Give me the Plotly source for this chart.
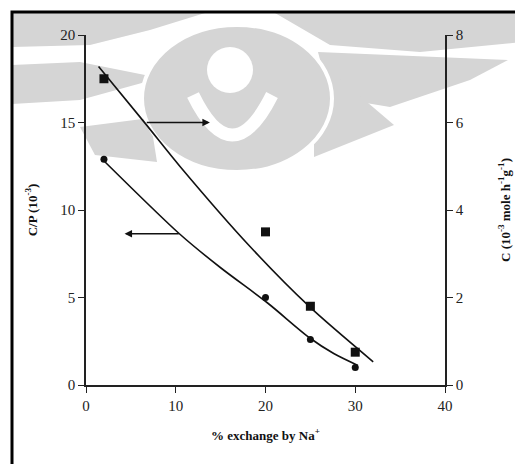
import plotly.graph_objects as go

# ---- data ----
exchange = [2, 20, 25, 30]                 # % exchange by Na+
cp_values = [12.9, 5.0, 2.6, 1.0]          # C/P (10^-3), left axis, circles
c_values = [7.0, 3.5, 1.8, 0.75]           # C (10^-3 mole h^-1 g^-1), right axis, squares

cp_fit_x = [1.9, 10.5, 15.0, 20.2, 24.9, 27.6, 30.3]
cp_fit_y = [12.86, 8.6, 6.7, 4.7, 2.7, 1.8, 1.12]
c_fit_x = [1.4, 6.6, 10.5, 18.3, 24.9, 32.0]
c_fit_y = [7.28, 5.98, 4.99, 3.16, 1.79, 0.53]

x_ticks = [0, 10, 20, 30, 40]
cp_ticks = [0, 5, 10, 15, 20]
c_ticks = [0, 2, 4, 6, 8]

# ---- geometry (window pixels; the page body adds an 8px offset) ----
OFF = 8
W, H = 523 - OFF, 464 - OFF
X0, X1, Y0, Y1 = 86, 445, 385, 35          # plot area in window pixels
L, T = X0 - OFF, Y1 - OFF
PW, PH = X1 - X0, Y0 - Y1
R, B = W - L - PW, H - T - PH


def px(x):
    return (x - X0) / PW


def py(y):
    return (Y0 - y) / PH


def poly(pts):
    return "M " + " L ".join(f"{px(a):.4f},{py(b):.4f}" for a, b in pts) + " Z"


GREY = "rgb(213,213,213)"

shapes = []
# watermark of the scanned page, drawn below
wm_polys = [
    [(50, 0), (523, 0), (523, 8), (50, 8)],
    [(12, 13), (205, 13), (150, 30), (90, 45), (12, 47)],
    [(12, 65), (80, 62), (160, 78), (80, 100), (12, 104)],
    [(275, 13), (523, 13), (523, 42), (420, 52), (330, 45)],
    [(318, 52), (508, 60), (470, 80), (390, 107), (330, 97)],
    [(314, 57), (394, 125), (314, 157)],
    [(80, 127), (150, 118), (157, 162), (95, 155)],
]
for p in wm_polys:
    shapes.append(dict(type="path", xref="paper", yref="paper", path=poly(p),
                       fillcolor=GREY, line=dict(width=0), layer="below"))
shapes.append(dict(type="circle", xref="paper", yref="paper",
                   x0=px(142), x1=px(332), y0=py(172), y1=py(25),
                   fillcolor=GREY, line=dict(color="white", width=4), layer="below"))
shapes.append(dict(type="circle", xref="paper", yref="paper",
                   x0=px(207), x1=px(253), y0=py(93), y1=py(47),
                   fillcolor="white", line=dict(width=0), layer="below"))
shapes.append(dict(type="path", xref="paper", yref="paper",
                   path=f"M {px(193):.4f},{py(95):.4f} Q {px(232):.4f},{py(175):.4f} {px(272):.4f},{py(95):.4f}",
                   line=dict(color="white", width=13), layer="below"))
# outer frame of the scanned figure
shapes.append(dict(type="rect", xref="paper", yref="paper",
                   x0=px(12), x1=px(540), y0=py(480), y1=py(12),
                   line=dict(color="black", width=3), layer="above"))

fig = go.Figure()
fig.add_trace(go.Scatter(x=cp_fit_x, y=cp_fit_y, mode="lines",
                         line=dict(color="#111", width=1.6, shape="spline", smoothing=0.8),
                         showlegend=False, hoverinfo="skip"))
fig.add_trace(go.Scatter(x=exchange, y=cp_values, mode="markers",
                         marker=dict(symbol="circle", size=7, color="#111"),
                         showlegend=False))
fig.add_trace(go.Scatter(x=c_fit_x, y=c_fit_y, mode="lines", yaxis="y2",
                         line=dict(color="#111", width=1.6, shape="spline", smoothing=0.8),
                         showlegend=False, hoverinfo="skip"))
fig.add_trace(go.Scatter(x=exchange, y=c_values, mode="markers", yaxis="y2",
                         marker=dict(symbol="square", size=9, color="#111"),
                         showlegend=False))

SERIF = "Liberation Serif"
tick_font = dict(family=SERIF, size=15, color="#222")
title_font = dict(family=SERIF, size=13, color="#111")

axis_common = dict(showgrid=False, zeroline=False, showline=True, linecolor="#222",
                   linewidth=1.5, ticks="outside", ticklen=6, tickwidth=1.3,
                   tickcolor="#222", tickfont=tick_font)

fig.update_layout(
    width=W, height=H,
    margin=dict(l=L, r=R, t=T, b=B),
    paper_bgcolor="white", plot_bgcolor="rgba(0,0,0,0)",
    shapes=shapes,
    xaxis=dict(range=[0, 40], tickvals=x_ticks, ticktext=[str(v) for v in x_ticks],
               title=dict(text="<b>% exchange by Na<sup>+</sup></b>", font=title_font, standoff=18),
               **axis_common),
    yaxis=dict(range=[0, 20], tickvals=cp_ticks, ticktext=[str(v) for v in cp_ticks],
               title=dict(text="<b>C/P (10<sup>-3</sup>)</b>", font=title_font, standoff=20),
               **axis_common),
    yaxis2=dict(range=[0, 8], tickvals=c_ticks, ticktext=[str(v) for v in c_ticks],
                overlaying="y", side="right",
                title=dict(text="<b>C (10<sup>-3</sup> mole h<sup>-1</sup>g<sup>-1</sup>)</b>",
                           font=title_font, standoff=38),
                **axis_common),
    annotations=[
        dict(x=13.8, y=15, ax=6.6, ay=15, xref="x", yref="y", axref="x", ayref="y",
             showarrow=True, arrowhead=2, arrowsize=1, arrowwidth=1.5, arrowcolor="#111", text=""),
        dict(x=4.3, y=8.65, ax=10.5, ay=8.65, xref="x", yref="y", axref="x", ayref="y",
             showarrow=True, arrowhead=2, arrowsize=1, arrowwidth=1.5, arrowcolor="#111", text=""),
    ],
)

fig.write_html("out.html")
